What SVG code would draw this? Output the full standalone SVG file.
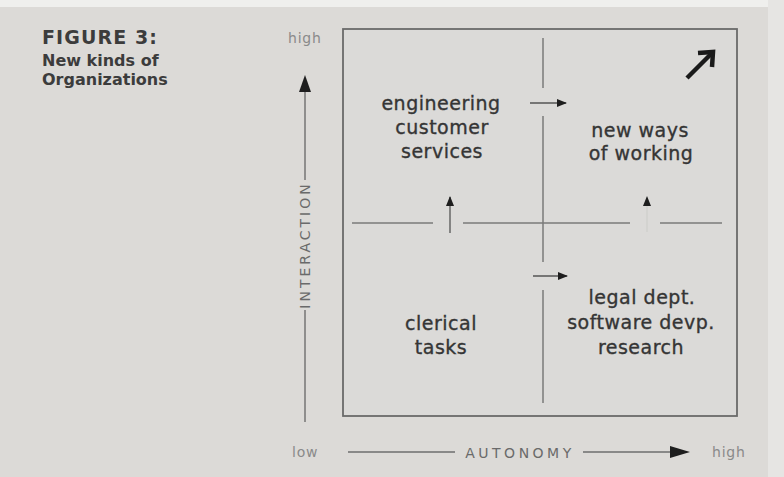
<svg xmlns="http://www.w3.org/2000/svg" width="784" height="477" viewBox="0 0 784 477">
  <style>
    .title { font-family: "DejaVu Sans", "Liberation Sans", sans-serif; font-weight: bold; fill: #3c3c3c; }
    .quad { font-family: "DejaVu Sans", "Liberation Sans", sans-serif; font-size: 19px; letter-spacing: 0.5px; fill: #353535; stroke: #353535; stroke-width: 0.35; text-anchor: middle; }
    .axis { font-family: "DejaVu Sans", "Liberation Sans", sans-serif; font-size: 14px; fill: #6a6a6a; }
    .end { font-family: "DejaVu Sans", "Liberation Sans", sans-serif; font-size: 14px; letter-spacing: 0.8px; fill: #8a8a8a; }
    .rule { stroke: #7a7a7a; stroke-width: 1.5; fill: none; }
    .shaft { stroke: #555; stroke-width: 1.3; fill: none; }
    .head { fill: #1e1e1e; }
  </style>
  <defs>
    <marker id="tri" markerWidth="10" markerHeight="8" refX="9" refY="4" orient="auto" markerUnits="userSpaceOnUse">
      <path d="M0,0 L10,4 L0,8 Z" class="head"/>
    </marker>
  </defs>

  <!-- paper -->
  <rect width="784" height="477" fill="#dcdad7"/>
  <rect width="784" height="7" fill="#efefed"/>
  <rect x="768" y="0" width="16" height="477" fill="#e6e5e3"/>

  <!-- caption -->
  <g id="caption">
    <text class="title" x="42" y="44" font-size="19" letter-spacing="1.1">FIGURE 3:</text>
    <text class="title" x="42" y="66" font-size="16">New kinds of</text>
    <text class="title" x="42" y="85" font-size="16">Organizations</text>
  </g>

  <!-- frame of the matrix -->
  <g id="frame">
    <rect x="343" y="29" width="394" height="387" fill="#dbdad8" stroke="#6a6a6a" stroke-width="1.8"/>
  </g>

  <!-- quadrant dividers and movement arrows -->
  <g id="connectors">
    <line class="rule" x1="543" y1="38" x2="543" y2="88"/>
    <line class="rule" x1="543" y1="116" x2="543" y2="262"/>
    <line class="rule" x1="543" y1="290" x2="543" y2="403"/>
    <line class="rule" x1="352" y1="223" x2="433" y2="223"/>
    <line class="rule" x1="463" y1="223" x2="630" y2="223"/>
    <line class="rule" x1="660" y1="223" x2="722" y2="223"/>

    <line class="shaft" x1="530" y1="103" x2="566" y2="103" marker-end="url(#tri)"/>
    <line class="shaft" x1="533" y1="276" x2="567" y2="276" marker-end="url(#tri)"/>
    <line class="shaft" x1="450" y1="233" x2="450" y2="197" marker-end="url(#tri)"/>
    <line x1="647" y1="232" x2="647" y2="197" stroke="#cfcfcd" stroke-width="1.3" marker-end="url(#tri)"/>

    <g stroke="#1a1a1a" stroke-width="4.5" fill="none" stroke-linecap="butt">
      <line x1="687" y1="78" x2="711" y2="54"/>
      <polyline points="698,53 713,52 712,67"/>
    </g>
  </g>

  <!-- quadrant labels -->
  <g id="node-engineering">
    <text class="quad" x="441" y="110">engineering</text>
    <text class="quad" x="442" y="134">customer</text>
    <text class="quad" x="442" y="158">services</text>
  </g>
  <g id="node-new-ways">
    <text class="quad" x="640" y="137">new ways</text>
    <text class="quad" x="641" y="160">of working</text>
  </g>
  <g id="node-clerical">
    <text class="quad" x="441" y="330">clerical</text>
    <text class="quad" x="441" y="354">tasks</text>
  </g>
  <g id="node-legal">
    <text class="quad" x="642" y="304">legal dept.</text>
    <text class="quad" x="641" y="329">software devp.</text>
    <text class="quad" x="641" y="354">research</text>
  </g>

  <!-- vertical axis -->
  <g id="axis-interaction">
    <text class="end" x="288" y="43">high</text>
    <line x1="305" y1="90" x2="305" y2="180" stroke="#6e6e6e" stroke-width="1.4"/>
    <path d="M305,75 L311,92 L299,92 Z" class="head"/>
    <text class="axis" transform="translate(310,245) rotate(-90)" text-anchor="middle" letter-spacing="3">INTERACTION</text>
    <line x1="305" y1="310" x2="305" y2="422" stroke="#6e6e6e" stroke-width="1.4"/>
  </g>

  <!-- horizontal axis -->
  <g id="axis-autonomy">
    <text class="end" x="292" y="457">low</text>
    <line x1="348" y1="452" x2="455" y2="452" stroke="#6e6e6e" stroke-width="1.4"/>
    <text class="axis" x="520" y="458" text-anchor="middle" letter-spacing="3.5">AUTONOMY</text>
    <line x1="583" y1="452" x2="672" y2="452" stroke="#6e6e6e" stroke-width="1.4"/>
    <path d="M690,452 L670,446 L670,458 Z" class="head"/>
    <text class="end" x="712" y="457">high</text>
  </g>
</svg>
